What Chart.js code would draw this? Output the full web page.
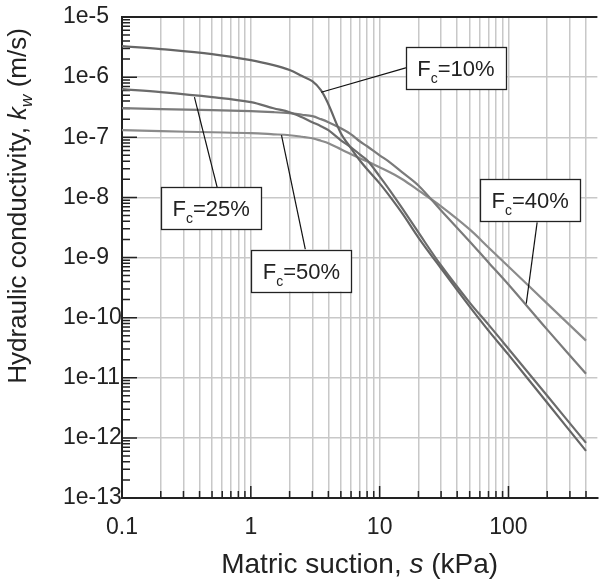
<!DOCTYPE html>
<html>
<head>
<meta charset="utf-8">
<script src="https://cdn.jsdelivr.net/npm/chart.js@4.4.0/dist/chart.umd.min.js"></script>
<style>
  html, body { margin: 0; padding: 0; background: #fff; }
</style>
</head>
<body>
<canvas id="kChart" width="602" height="580"></canvas>
<script>
// matric suction (kPa) and hydraulic conductivity (m/s)
const suction = [0.1, 0.2, 0.5, 1, 1.5, 2, 2.5, 3, 3.5, 4, 5, 6, 7, 8, 10, 12, 15, 20, 30, 50, 70, 100, 200, 400];
const kFc10 = [3.29e-6, 2.93e-6, 2.42e-6, 1.92e-6, 1.58e-6, 1.31e-6, 1.04e-6, 8.58e-7, 6.07e-7, 3.55e-7, 1.17e-7, 6.56e-8, 4.14e-8, 2.93e-8, 1.71e-8, 1.04e-8, 5.41e-9, 2.15e-9, 6.56e-10, 1.52e-10, 6.07e-11, 2.42e-11, 3.83e-12, 6.07e-13];
const kFc25 = [6.31e-7, 5.62e-7, 4.64e-7, 3.83e-7, 3.04e-7, 2.61e-7, 2.15e-7, 1.78e-7, 1.53e-7, 1.31e-7, 8.91e-8, 6.81e-8, 5.21e-8, 4.14e-8, 2.24e-8, 1.31e-8, 6.56e-9, 2.61e-9, 7.36e-10, 1.78e-10, 7.64e-11, 3.04e-11, 5.01e-12, 8.26e-13];
const kFc40 = [3.04e-7, 2.93e-7, 2.82e-7, 2.71e-7, 2.61e-7, 2.51e-7, 2.37e-7, 2.24e-7, 2.0e-7, 1.78e-7, 1.41e-7, 1.12e-7, 8.58e-8, 7.08e-8, 5.01e-8, 3.83e-8, 2.61e-8, 1.58e-8, 6.07e-9, 1.85e-9, 8.26e-10, 3.55e-10, 6.31e-11, 1.17e-11];
const kFc50 = [1.31e-7, 1.26e-7, 1.21e-7, 1.17e-7, 1.12e-7, 1.08e-7, 1.02e-7, 9.62e-8, 8.74e-8, 7.94e-8, 6.31e-8, 5.21e-8, 4.47e-8, 3.98e-8, 3.16e-8, 2.61e-8, 2.0e-8, 1.31e-8, 7.08e-9, 2.93e-9, 1.47e-9, 7.08e-10, 1.71e-10, 4.14e-11];

const seriesNames = ['10%', '25%', '40%', '50%'];
const seriesColors = ['#666666', '#6c6c6c', '#7b7b7b', '#8b8b8b'];

// decade ticks that carry labels
const xMajor = [0.1, 1, 10, 100];
const yMajor = [1e-13, 1e-12, 1e-11, 1e-10, 1e-9, 1e-8, 1e-7, 1e-6, 1e-5];

// label boxes: centre, leader start and the point on the curve it points at
const noteX = [39.1, 0.492, 147.6, 2.47];
const noteY = [1.41e-6, 6.56e-9, 8.9e-9, 6.07e-10];
const leadFromX = [16.7, 0.548, 167, 2.65];
const leadFromY = [1.47e-6, 1.47e-8, 3.83e-9, 1.36e-9];
const leadToX = [3.52, 0.365, 137.5, 1.73];
const leadToY = [5.6e-7, 4.64e-7, 1.71e-10, 1.08e-7];

const FONT = "'Liberation Sans', Arial, Helvetica, sans-serif";

// minor + major tick positions for log axes
function logTicks(majors, last) {
    const out = [];
    majors.forEach(d => {
        for (let m = 1; m <= 9; m++) {
            const v = m * d;
            if (v <= last * 1.0001) out.push(v);
        }
    });
    return out;
}
const xTickVals = logTicks(xMajor, 400);
const yTickVals = logTicks(yMajor.slice(0, -1), 1e-5).concat([1e-5]);

function isDecade(v) {
    const l = Math.log10(v);
    return Math.abs(l - Math.round(l)) < 1e-6;
}

const decor = {
    id: 'decor',
    beforeDatasetsDraw(chart) {
        const { ctx, chartArea: a, scales: { x, y } } = chart;
        ctx.save();
        ctx.strokeStyle = '#222';
        ctx.lineWidth = 1.5;
        ctx.beginPath();
        y.ticks.forEach(t => {
            const p = y.getPixelForValue(t.value);
            const len = isDecade(t.value) ? 15 : 8;
            ctx.moveTo(a.left, p);
            ctx.lineTo(a.left + len, p);
        });
        x.ticks.forEach(t => {
            const p = x.getPixelForValue(t.value);
            const len = isDecade(t.value) ? 12 : 7;
            ctx.moveTo(p, a.bottom);
            ctx.lineTo(p, a.bottom - len);
        });
        ctx.stroke();
        ctx.lineWidth = 2;
        ctx.beginPath();
        ctx.moveTo(a.left, a.top);
        ctx.lineTo(a.right, a.top);
        ctx.stroke();
        ctx.restore();
    },
    afterDatasetsDraw(chart) {
        const { ctx, scales: { x, y } } = chart;
        ctx.save();
        // leader lines
        ctx.strokeStyle = '#111';
        ctx.lineWidth = 1.2;
        seriesNames.forEach((n, i) => {
            ctx.beginPath();
            ctx.moveTo(x.getPixelForValue(leadFromX[i]), y.getPixelForValue(leadFromY[i]));
            ctx.lineTo(x.getPixelForValue(leadToX[i]), y.getPixelForValue(leadToY[i]));
            ctx.stroke();
        });
        // boxes with F_c labels
        seriesNames.forEach((n, i) => {
            const cx = x.getPixelForValue(noteX[i]);
            const cy = y.getPixelForValue(noteY[i]);
            const w = 100, h = 42;
            ctx.fillStyle = '#fff';
            ctx.fillRect(cx - w / 2, cy - h / 2, w, h);
            ctx.strokeStyle = '#222';
            ctx.lineWidth = 1.3;
            ctx.strokeRect(Math.round(cx - w / 2) + 0.5, Math.round(cy - h / 2) + 0.5, w, h);
            ctx.fillStyle = '#222';
            ctx.textBaseline = 'alphabetic';
            ctx.textAlign = 'left';
            ctx.font = '22px ' + FONT;
            const wF = ctx.measureText('F').width;
            const rest = '=' + n;
            const wR = ctx.measureText(rest).width;
            ctx.font = '14px ' + FONT;
            const wc = ctx.measureText('c').width;
            let tx = cx - (wF + wc + wR) / 2;
            const base = cy + 8;
            ctx.font = '22px ' + FONT;
            ctx.fillText('F', tx, base);
            tx += wF;
            ctx.font = '14px ' + FONT;
            ctx.fillText('c', tx, base + 7);
            tx += wc;
            ctx.font = '22px ' + FONT;
            ctx.fillText(rest, tx, base);
        });
        ctx.restore();
    },
    afterDraw(chart) {
        const { ctx, chartArea: a } = chart;
        ctx.save();
        ctx.fillStyle = '#222';
        ctx.textBaseline = 'alphabetic';
        ctx.textAlign = 'left';

        // x title
        const xParts = [['Matric suction, ', ''], ['s', 'italic '], [' (kPa)', '']];
        let total = 0;
        xParts.forEach(p => { ctx.font = p[1] + '28px ' + FONT; total += ctx.measureText(p[0]).width; });
        let px = (a.left + a.right) / 2 - total / 2;
        xParts.forEach(p => {
            ctx.font = p[1] + '28px ' + FONT;
            ctx.fillText(p[0], px, a.bottom + 75);
            px += ctx.measureText(p[0]).width;
        });

        // y title, rotated
        const yParts = [['Hydraulic conductivity, ', '', 26, 0], ['k', 'italic ', 26, 0], ['w', 'italic ', 17, 6], [' (m/s)', '', 26, 0]];
        total = 0;
        yParts.forEach(p => { ctx.font = p[1] + p[2] + 'px ' + FONT; total += ctx.measureText(p[0]).width; });
        ctx.translate(26, a.top + 189);
        ctx.rotate(-Math.PI / 2);
        let py = -total / 2;
        yParts.forEach(p => {
            ctx.font = p[1] + p[2] + 'px ' + FONT;
            ctx.fillText(p[0], py, p[3]);
            py += ctx.measureText(p[0]).width;
        });
        ctx.restore();
    }
};

const datasets = [kFc10, kFc25, kFc40, kFc50].map((vals, i) => ({
    label: 'Fc=' + seriesNames[i],
    data: suction.map((s, j) => ({ x: s, y: vals[j] })),
    borderColor: seriesColors[i],
    borderWidth: 2.2,
    pointRadius: 0,
    fill: false,
    tension: 0.35
}));

new Chart(document.getElementById('kChart').getContext('2d'), {
    type: 'line',
    data: { datasets: datasets },
    options: {
        responsive: false,
        animation: false,
        devicePixelRatio: 1,
        layout: { padding: { left: 63, top: 17, right: 0, bottom: 0 } },
        plugins: { legend: { display: false }, tooltip: { enabled: false } },
        scales: {
            x: {
                type: 'logarithmic',
                min: 0.1,
                max: 490,
                afterBuildTicks: s => { s.ticks = xTickVals.map(v => ({ value: v })); },
                afterFit: s => { s.height = 82; },
                ticks: {
                    autoSkip: false,
                    maxRotation: 0,
                    padding: 16,
                    color: '#222',
                    font: { family: FONT, size: 23 },
                    callback: v => xMajor.some(m => Math.abs(m - v) < m * 1e-6) ? String(v) : ''
                },
                grid: { color: '#c8c8c8', lineWidth: 1.5, drawTicks: false },
                border: { color: '#222', width: 2 }
            },
            y: {
                type: 'logarithmic',
                min: 1e-13,
                max: 1e-5,
                afterBuildTicks: s => { s.ticks = yTickVals.map(v => ({ value: v })); },
                afterFit: s => { s.width = 59; },
                ticks: {
                    autoSkip: false,
                    crossAlign: 'far',
                    padding: 0,
                    color: '#222',
                    font: { family: FONT, size: 23 },
                    callback: v => isDecade(v) ? '1e' + Math.round(Math.log10(v)) : ''
                },
                grid: {
                    color: c => (c.tick && isDecade(c.tick.value)) ? '#c8c8c8' : 'rgba(0,0,0,0)',
                    lineWidth: 1.5,
                    drawTicks: false
                },
                border: { color: '#222', width: 2 }
            }
        }
    },
    plugins: [decor]
});
</script>
</body>
</html>
